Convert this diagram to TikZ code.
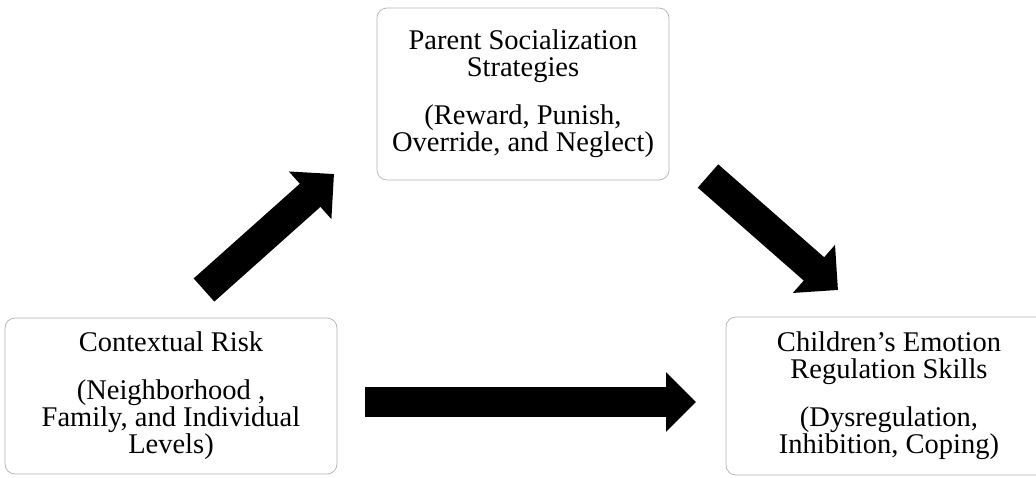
\documentclass[tikz,border=0pt]{standalone}
\usepackage{fontspec}
\setmainfont{Liberation Serif}
\usetikzlibrary{arrows.meta}
\begin{document}
\begin{tikzpicture}[x=1pt,y=-1pt,
  box/.style={draw=gray!60, line width=0.7pt, rounded corners=10pt, align=center,
    font=\fontsize{28.5}{27}\selectfont, inner sep=0pt},
  fat/.style={line width=31pt, -{Triangle[width=62pt,length=32pt]}}]
\useasboundingbox (0,0) rectangle (1036,477);
\clip (0,0) rectangle (1036,477);
\node[box, minimum width=292pt, minimum height=172pt] (par) at (523,94)
  {Parent Socialization\\Strategies\\[21pt](Reward, Punish,\\Override, and Neglect)};
\node[box, minimum width=332pt, minimum height=156pt] (ctx) at (171,396)
  {Contextual Risk\\[21pt](Neighborhood ,\\Family, and Individual\\Levels)};
\node[box, minimum width=326pt, minimum height=158pt] (chi) at (889,396)
  {Children’s Emotion\\Regulation Skills\\[21pt](Dysregulation,\\Inhibition, Coping)};
\coordinate (a1s) at (204,290);
\coordinate (a1e) at (334,174);
\coordinate (a2s) at (708,176);
\coordinate (a2e) at (838,290);
\coordinate (a3s) at (365,402);
\coordinate (a3e) at (696,402);
\draw[fat] (a1s) -- (a1e);
\draw[fat] (a2s) -- (a2e);
\draw[fat, line width=30pt, -{Triangle[width=58pt,length=30pt]}] (a3s) -- (a3e);
\end{tikzpicture}
\end{document}
